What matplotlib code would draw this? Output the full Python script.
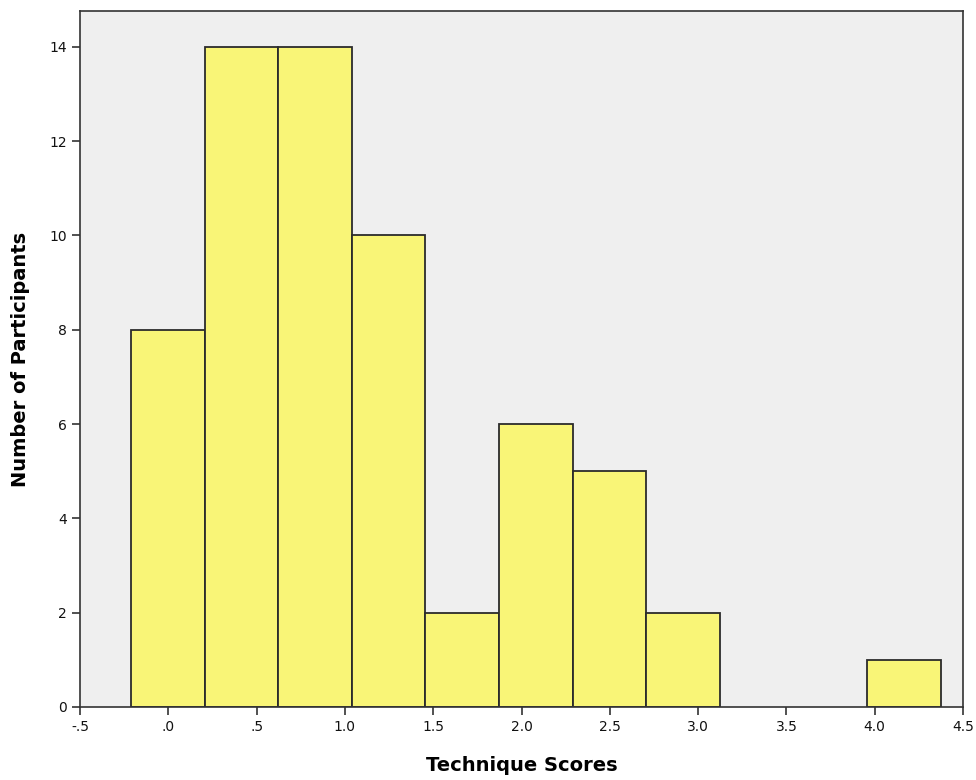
import matplotlib
matplotlib.use("Agg")
import matplotlib.pyplot as plt
import numpy as np

bin_start = -0.2114
bin_width = 0.4168
counts = [8, 14, 14, 10, 2, 6, 5, 2, 0, 0, 1]
xticks = [-0.5, 0.0, 0.5, 1.0, 1.5, 2.0, 2.5, 3.0, 3.5, 4.0, 4.5]
xtick_labels = ["-.5", ".0", ".5", "1.0", "1.5", "2.0", "2.5", "3.0", "3.5", "4.0", "4.5"]
yticks = [0, 2, 4, 6, 8, 10, 12, 14]

plt.rcParams['font.family'] = ['DejaVu Sans']

fig = plt.figure(figsize=(9.76, 7.8), dpi=100)
ax = fig.add_axes([80/976, 1-707/780, (963-80)/976, (707-11)/780])
ax.set_facecolor('#EFEFEF')

edges = bin_start + bin_width*np.arange(len(counts)+1)
for i, c in enumerate(counts):
    if c > 0:
        ax.bar(edges[i], c, width=bin_width, align='edge', color='#F9F577',
               edgecolor='#2b2b2b', linewidth=1.3, zorder=2)

ax.set_xlim(-0.5, 4.5)
ax.set_ylim(0, 14.76)
ax.set_xticks(xticks)
ax.set_xticklabels(xtick_labels)
ax.set_yticks(yticks)
ax.tick_params(direction='out', length=6, width=1.2, color='#333333', labelsize=10, labelcolor='#111111')
for s in ax.spines.values():
    s.set_color('#333333')
    s.set_linewidth(1.2)

ax.set_xlabel('Technique Scores', fontsize=14, fontweight='bold', labelpad=16)
ax.set_ylabel('Number of Participants', fontsize=14, fontweight='bold', labelpad=14)

fig.savefig('out.png', dpi=100)
